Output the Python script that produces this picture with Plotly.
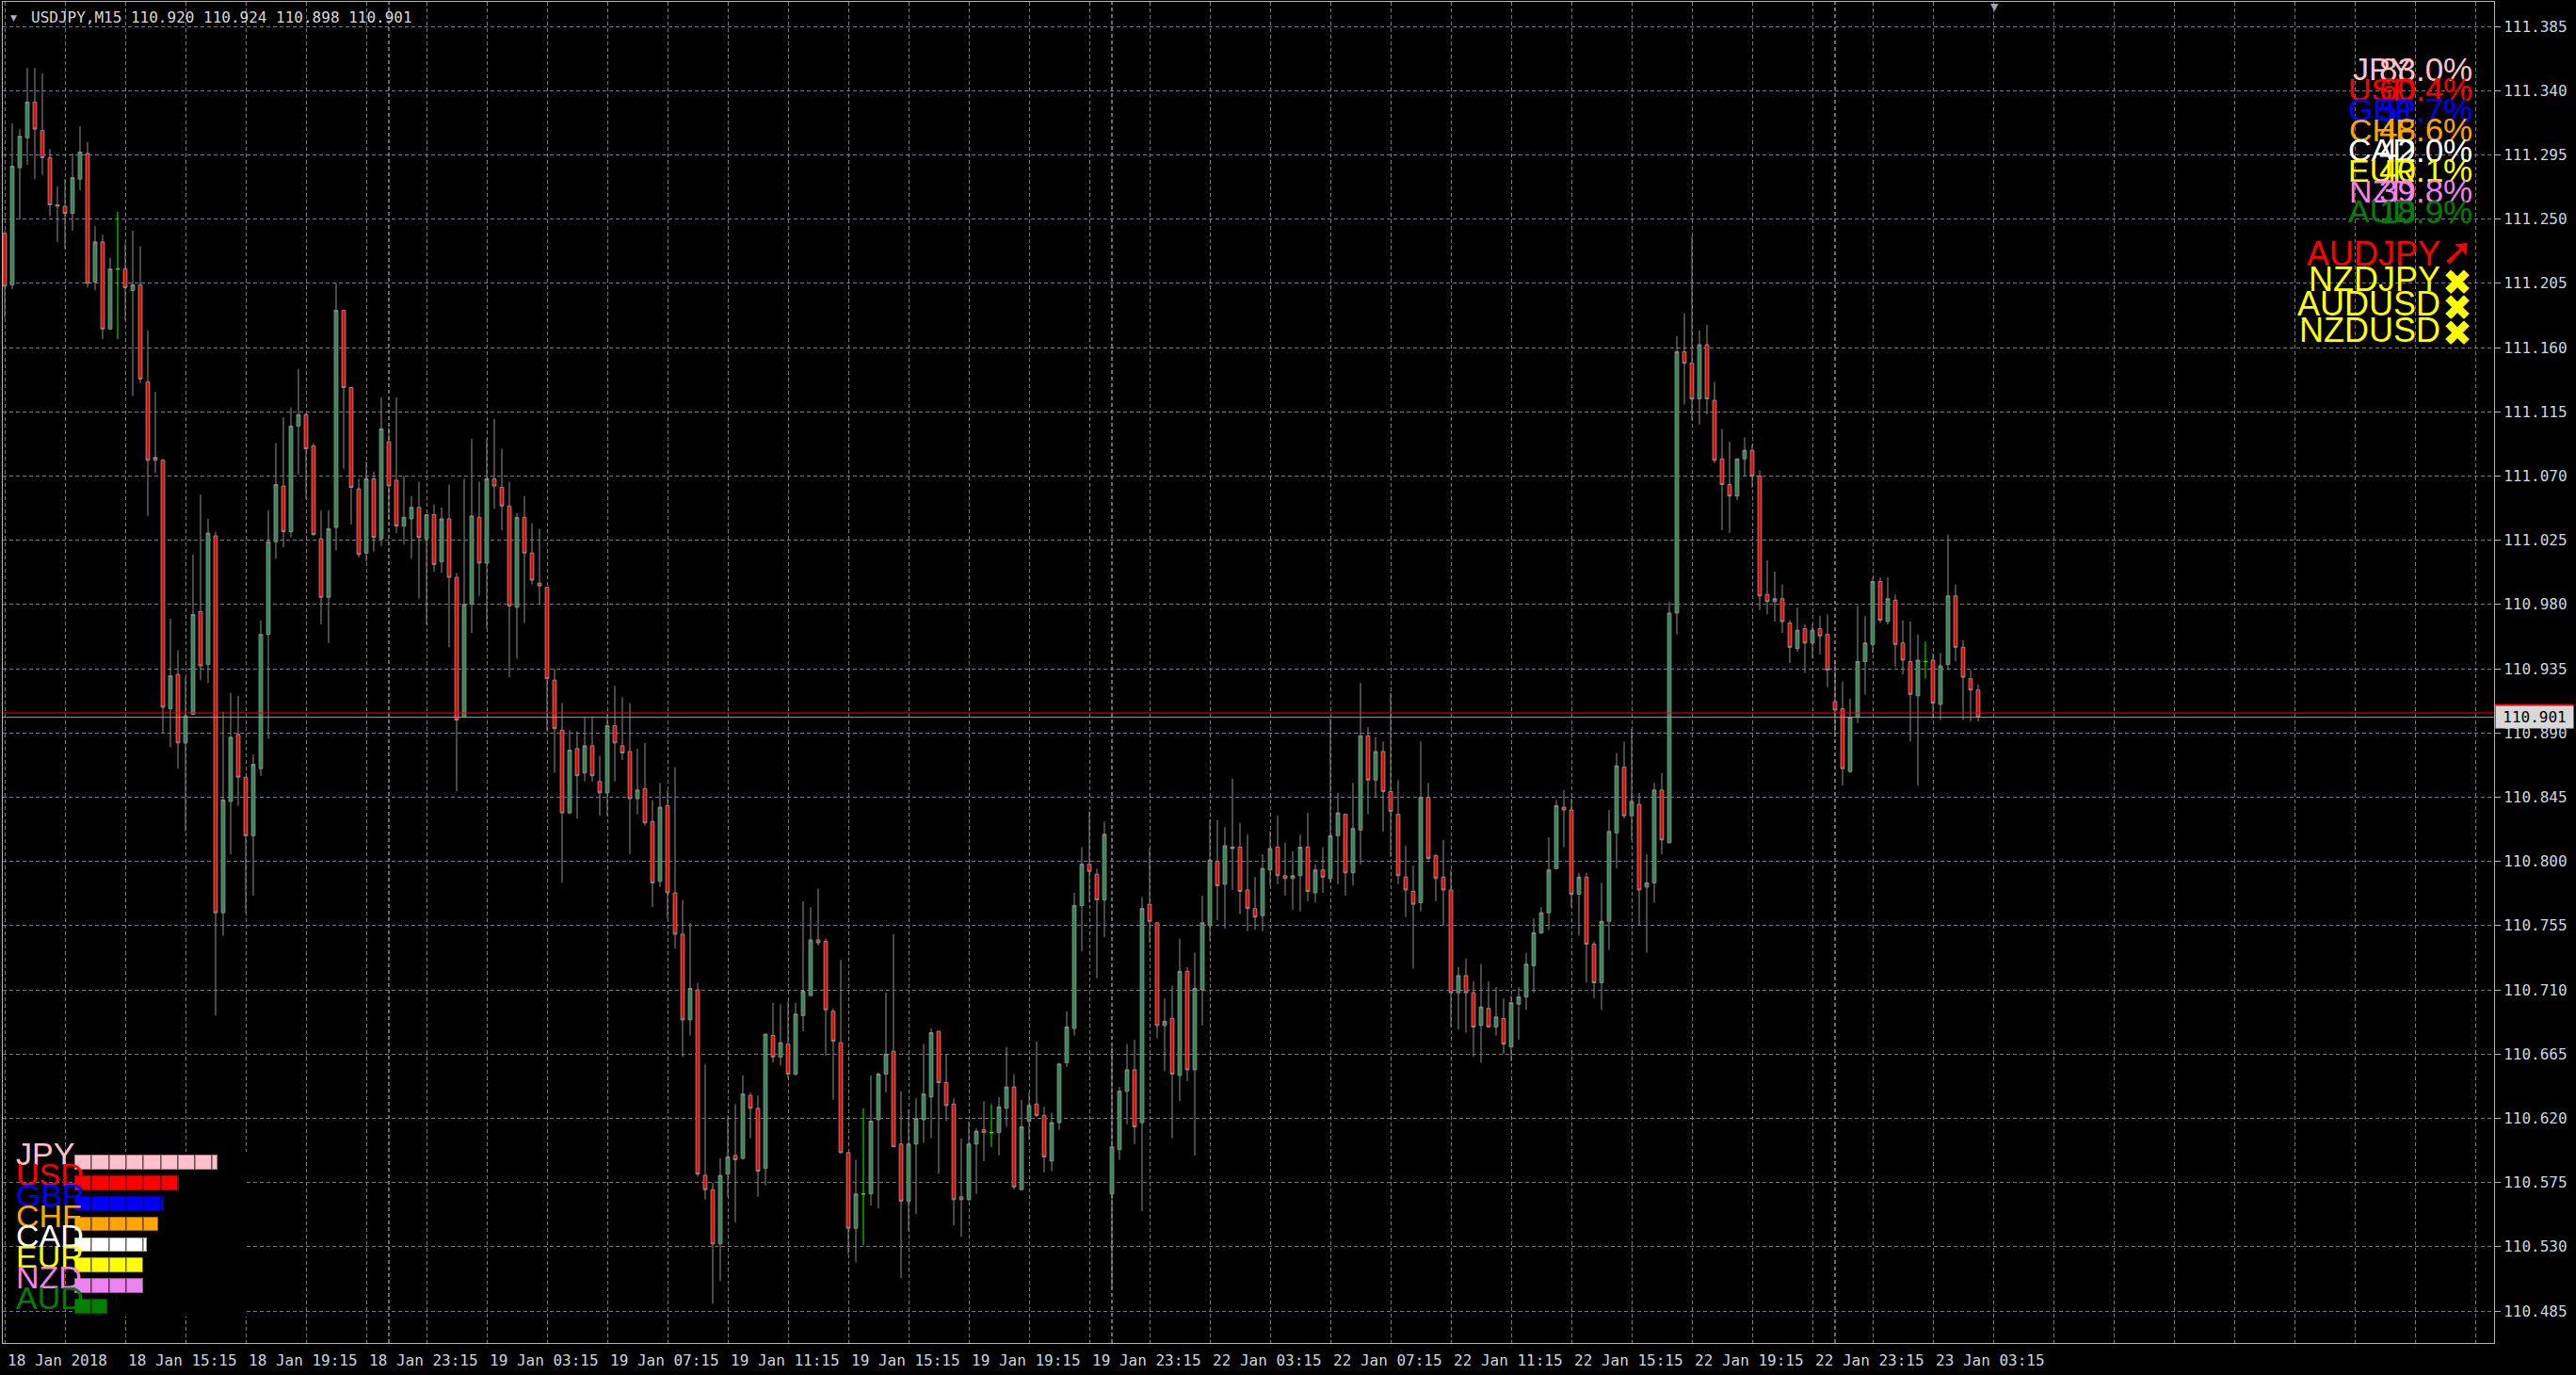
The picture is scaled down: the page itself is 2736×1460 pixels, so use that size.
import plotly.graph_objects as go
import pandas as pd

symbol = "USDJPY,M15"

opens = [111.240, 111.204, 111.286, 111.307, 111.332, 111.312, 111.293, 111.259, 111.259, 111.254,
         111.278, 111.296, 111.206, 111.234, 111.173, 111.215, 111.215, 111.200, 111.204, 111.136,
         111.081, 111.081, 110.907, 110.931, 110.883, 110.903, 110.975, 110.938, 111.028, 110.764,
         110.842, 110.889, 110.859, 110.818, 110.865, 110.959, 111.024, 111.063, 111.031, 111.105,
         111.113, 111.091, 111.026, 110.985, 111.034, 111.186, 111.132, 111.061, 111.016, 111.068,
         111.026, 111.094, 111.067, 111.035, 111.040, 111.048, 111.026, 111.043, 111.010, 111.040,
         110.999, 110.901, 110.980, 111.041, 111.009, 111.068, 111.062, 111.049, 110.978, 111.041,
         111.016, 110.995, 110.992, 110.927, 110.892, 110.834, 110.879, 110.862, 110.881, 110.856,
         110.848, 110.895, 110.881, 110.877, 110.844, 110.851, 110.828, 110.786, 110.839, 110.778,
         110.749, 110.689, 110.710, 110.580, 110.570, 110.532, 110.581, 110.594, 110.592, 110.636,
         110.627, 110.585, 110.678, 110.663, 110.672, 110.651, 110.692, 110.706, 110.745, 110.744,
         110.695, 110.673, 110.596, 110.543, 110.567, 110.567, 110.619, 110.651, 110.667, 110.602,
         110.562, 110.602, 110.619, 110.635, 110.681, 110.645, 110.630, 110.565, 110.563, 110.602,
         110.612, 110.610, 110.610, 110.627, 110.642, 110.570, 110.618, 110.630, 110.622, 110.590,
         110.617, 110.659, 110.683, 110.769, 110.798, 110.791, 110.773, 110.567, 110.598, 110.639,
         110.654, 110.617, 110.770, 110.757, 110.685, 110.690, 110.650, 110.723, 110.654, 110.710,
         110.755, 110.800, 110.784, 110.810, 110.810, 110.780, 110.767, 110.762, 110.794, 110.810,
         110.790, 110.788, 110.790, 110.810, 110.778, 110.794, 110.788, 110.818, 110.833, 110.792,
         110.822, 110.888, 110.857, 110.877, 110.849, 110.833, 110.789, 110.779, 110.771, 110.845,
         110.804, 110.789, 110.780, 110.708, 110.720, 110.708, 110.685, 110.697, 110.684, 110.690,
         110.670, 110.700, 110.705, 110.727, 110.750, 110.764, 110.795, 110.838, 110.836, 110.777,
         110.789, 110.742, 110.715, 110.758, 110.820, 110.866, 110.832, 110.840, 110.782, 110.785,
         110.850, 110.813, 110.974, 111.157, 111.149, 111.124, 111.162, 111.123, 111.082, 111.064,
         111.056, 111.082, 111.088, 111.070, 110.987, 110.982, 110.984, 110.967, 110.949, 110.963,
         110.953, 110.963, 110.959, 110.912, 110.907, 110.863, 110.901, 110.940, 110.952, 110.996,
         110.968, 110.983, 110.953, 110.940, 110.916, 110.940, 110.941, 110.910, 110.938, 110.986,
         110.950, 110.928, 110.920]

highs = [111.242, 111.317, 111.313, 111.356, 111.356, 111.352, 111.299, 111.273, 111.278, 111.296,
         111.315, 111.304, 111.245, 111.239, 111.223, 111.255, 111.233, 111.242, 111.231, 111.172,
         111.129, 111.082, 110.970, 110.948, 110.929, 111.015, 111.057, 111.040, 111.031, 110.905,
         110.918, 110.916, 110.859, 110.875, 110.969, 111.046, 111.093, 111.111, 111.118, 111.145,
         111.114, 111.093, 111.046, 111.046, 111.205, 111.186, 111.132, 111.068, 111.080, 111.073,
         111.125, 111.104, 111.125, 111.070, 111.056, 111.066, 111.043, 111.050, 111.048, 111.064,
         111.002, 111.068, 111.096, 111.066, 111.096, 111.110, 111.089, 111.066, 111.044, 111.056,
         111.037, 111.033, 110.992, 110.935, 110.911, 110.892, 110.891, 110.901, 110.901, 110.874,
         110.903, 110.923, 110.915, 110.911, 110.879, 110.883, 110.843, 110.855, 110.850, 110.866,
         110.773, 110.757, 110.715, 110.658, 110.575, 110.592, 110.622, 110.630, 110.650, 110.638,
         110.636, 110.679, 110.701, 110.700, 110.702, 110.701, 110.772, 110.768, 110.781, 110.746,
         110.697, 110.731, 110.596, 110.591, 110.627, 110.650, 110.652, 110.708, 110.749, 110.639,
         110.626, 110.634, 110.672, 110.683, 110.681, 110.665, 110.634, 110.606, 110.618, 110.613,
         110.632, 110.630, 110.635, 110.670, 110.651, 110.633, 110.638, 110.674, 110.628, 110.624,
         110.659, 110.695, 110.778, 110.810, 110.835, 110.795, 110.828, 110.670, 110.642, 110.672,
         110.675, 110.775, 110.809, 110.757, 110.704, 110.713, 110.746, 110.726, 110.736, 110.776,
         110.829, 110.829, 110.824, 110.858, 110.827, 110.819, 110.789, 110.805, 110.821, 110.832,
         110.813, 110.807, 110.819, 110.834, 110.798, 110.810, 110.900, 110.848, 110.833, 110.855,
         110.925, 110.894, 110.887, 110.884, 110.918, 110.857, 110.811, 110.797, 110.884, 110.855,
         110.805, 110.815, 110.794, 110.726, 110.732, 110.716, 110.728, 110.716, 110.712, 110.704,
         110.706, 110.712, 110.736, 110.760, 110.768, 110.817, 110.843, 110.850, 110.844, 110.792,
         110.792, 110.744, 110.785, 110.836, 110.876, 110.884, 110.893, 110.848, 110.805, 110.855,
         110.862, 110.982, 111.168, 111.184, 111.238, 111.172, 111.176, 111.136, 111.103, 111.094,
         111.082, 111.097, 111.092, 111.074, 111.011, 111.003, 110.994, 110.969, 110.978, 110.966,
         110.966, 110.972, 110.973, 110.941, 110.926, 110.914, 110.979, 110.972, 110.999, 110.999,
         110.999, 110.987, 110.969, 110.968, 110.959, 110.954, 110.946, 110.946, 111.029, 110.994,
         110.955, 110.934, 110.924]

lows = [111.181, 111.201, 111.250, 111.288, 111.278, 111.281, 111.252, 111.234, 111.229, 111.242,
        111.270, 111.202, 111.200, 111.166, 111.173, 111.166, 111.179, 111.126, 111.135, 111.042,
        111.072, 110.890, 110.880, 110.865, 110.821, 110.903, 110.927, 110.925, 110.692, 110.748,
        110.805, 110.839, 110.764, 110.776, 110.860, 110.886, 111.012, 111.020, 111.027, 111.071,
        111.054, 111.028, 110.966, 110.953, 111.018, 111.075, 111.036, 111.013, 111.010, 111.017,
        111.021, 111.039, 111.030, 111.022, 111.012, 110.984, 110.966, 111.003, 111.002, 110.950,
        110.849, 110.901, 110.960, 110.986, 110.963, 111.047, 111.032, 110.929, 110.942, 110.967,
        110.994, 110.980, 110.891, 110.862, 110.785, 110.833, 110.830, 110.856, 110.856, 110.832,
        110.832, 110.856, 110.871, 110.805, 110.833, 110.825, 110.768, 110.782, 110.760, 110.739,
        110.663, 110.678, 110.579, 110.563, 110.490, 110.506, 110.565, 110.547, 110.591, 110.606,
        110.565, 110.573, 110.659, 110.657, 110.648, 110.650, 110.681, 110.706, 110.741, 110.664,
        110.633, 110.595, 110.525, 110.519, 110.531, 110.559, 110.557, 110.638, 110.600, 110.508,
        110.541, 110.553, 110.603, 110.606, 110.581, 110.618, 110.545, 110.537, 110.562, 110.567,
        110.590, 110.600, 110.594, 110.614, 110.570, 110.570, 110.605, 110.621, 110.582, 110.583,
        110.612, 110.656, 110.678, 110.737, 110.771, 110.718, 110.747, 110.501, 110.591, 110.616,
        110.602, 110.555, 110.743, 110.676, 110.653, 110.606, 110.632, 110.646, 110.594, 110.685,
        110.744, 110.759, 110.753, 110.780, 110.763, 110.751, 110.752, 110.751, 110.783, 110.784,
        110.776, 110.766, 110.765, 110.772, 110.771, 110.778, 110.785, 110.784, 110.776, 110.783,
        110.798, 110.833, 110.845, 110.821, 110.803, 110.784, 110.761, 110.725, 110.765, 110.801,
        110.772, 110.755, 110.684, 110.682, 110.680, 110.663, 110.659, 110.684, 110.678, 110.665,
        110.660, 110.675, 110.696, 110.708, 110.749, 110.752, 110.795, 110.810, 110.768, 110.748,
        110.715, 110.704, 110.696, 110.738, 110.795, 110.830, 110.815, 110.755, 110.736, 110.771,
        110.805, 110.813, 110.959, 111.120, 111.109, 111.106, 111.113, 111.079, 111.032, 111.030,
        111.053, 111.070, 111.062, 110.976, 110.973, 110.968, 110.960, 110.939, 110.947, 110.932,
        110.942, 110.945, 110.922, 110.887, 110.853, 110.862, 110.897, 110.917, 110.946, 110.967,
        110.966, 110.936, 110.931, 110.884, 110.853, 110.928, 110.900, 110.899, 110.934, 110.940,
        110.899, 110.898, 110.898]

closes = [111.203, 111.287, 111.308, 111.332, 111.313, 111.293, 111.260, 111.260, 111.254, 111.279,
          111.297, 111.205, 111.234, 111.173, 111.215, 111.215, 111.202, 111.204, 111.138, 111.081,
          111.083, 110.908, 110.930, 110.883, 110.902, 110.973, 110.937, 111.030, 110.764, 110.843,
          110.887, 110.859, 110.818, 110.868, 110.959, 111.024, 111.064, 111.031, 111.105, 111.113,
          111.089, 111.029, 110.985, 111.033, 111.186, 111.132, 111.062, 111.015, 111.068, 111.027,
          111.103, 111.063, 111.035, 111.041, 111.048, 111.027, 111.043, 111.008, 111.040, 110.999,
          110.899, 110.980, 111.042, 111.009, 111.068, 111.063, 111.049, 110.979, 111.041, 111.016,
          110.997, 110.993, 110.928, 110.893, 110.834, 110.878, 110.860, 110.881, 110.860, 110.848,
          110.895, 110.883, 110.876, 110.844, 110.850, 110.827, 110.785, 110.838, 110.778, 110.749,
          110.689, 110.711, 110.581, 110.570, 110.532, 110.580, 110.593, 110.591, 110.637, 110.627,
          110.583, 110.679, 110.663, 110.673, 110.651, 110.693, 110.709, 110.745, 110.743, 110.696,
          110.674, 110.596, 110.543, 110.567, 110.567, 110.618, 110.651, 110.665, 110.600, 110.562,
          110.602, 110.620, 110.637, 110.680, 110.645, 110.629, 110.563, 110.563, 110.602, 110.611,
          110.610, 110.610, 110.628, 110.642, 110.572, 110.614, 110.629, 110.622, 110.593, 110.617,
          110.658, 110.684, 110.769, 110.798, 110.793, 110.773, 110.819, 110.600, 110.639, 110.654,
          110.614, 110.767, 110.758, 110.685, 110.688, 110.651, 110.723, 110.654, 110.711, 110.757,
          110.801, 110.783, 110.811, 110.809, 110.779, 110.767, 110.761, 110.795, 110.809, 110.790,
          110.788, 110.790, 110.810, 110.779, 110.794, 110.789, 110.818, 110.834, 110.792, 110.823,
          110.888, 110.857, 110.877, 110.849, 110.835, 110.790, 110.780, 110.770, 110.845, 110.802,
          110.788, 110.780, 110.708, 110.720, 110.708, 110.684, 110.698, 110.684, 110.691, 110.672,
          110.701, 110.705, 110.728, 110.750, 110.764, 110.794, 110.839, 110.836, 110.777, 110.789,
          110.742, 110.715, 110.758, 110.821, 110.867, 110.832, 110.842, 110.780, 110.785, 110.850,
          110.815, 110.974, 111.157, 111.149, 111.124, 111.162, 111.124, 111.081, 111.064, 111.056,
          111.082, 111.088, 111.070, 110.986, 110.982, 110.984, 110.968, 110.950, 110.962, 110.953,
          110.962, 110.958, 110.934, 110.906, 110.865, 110.901, 110.940, 110.953, 110.996, 110.969,
          110.984, 110.952, 110.941, 110.917, 110.941, 110.940, 110.911, 110.937, 110.986, 110.950,
          110.929, 110.920, 110.901]

ask_price = 110.904

price_ticks = [110.485, 110.530, 110.575, 110.620, 110.665, 110.710, 110.755, 110.800, 110.845,
               110.890, 110.935, 110.980, 111.025, 111.070, 111.115, 111.160, 111.205, 111.250,
               111.295, 111.340, 111.385]

currencies = ["JPY", "USD", "GBP", "CHF", "CAD", "EUR", "NZD", "AUD"]
strength = [83.0, 60.4, 51.7, 48.6, 42.0, 40.1, 39.8, 18.9]
cur_colors = ["#FFC0CB", "#FF0000", "#0000FF", "#FFA500", "#FFFFFF", "#FFFF00", "#EE82EE", "#008000"]

pairs = ["AUDJPY", "NZDJPY", "AUDUSD", "NZDUSD"]
pair_colors = ["#FF0000", "#FFFF00", "#FFFF00", "#FFFF00"]
pair_marks = ["➚", "✖", "✖", "✖"]

# ---------------- time axis ----------------
n = len(opens)
session1 = pd.date_range("2018-01-18 11:15", "2018-01-19 23:45", freq="15min")
session2 = pd.date_range("2018-01-22 00:00", periods=n - len(session1), freq="15min")
bar_times = session1.append(session2)
idx = list(range(n))
day_starts = [i for i in range(1, n) if bar_times[i].date() != bar_times[i - 1].date()]
label_idx = list(range(0, n, 16))
time_labels = [bar_times[i].strftime("%d %b %Y") if i == 0 else bar_times[i].strftime("%d %b %H:%M")
               for i in label_idx]

# ---------------- geometry helpers ----------------
W, H = 2736, 1460
ML, MR, MT, MB = 3, 87, 2, 34
PW, PH = W - ML - MR, H - MT - MB


def px(x):
    return (x - ML) / PW


def py(y):
    return (H - MB - y) / PH


GRID = "#6f7b8c"
AXTXT = "#cfd5de"
MONO = "DejaVu Sans Mono"
SANS = "Liberation Sans"

fig = go.Figure()

reg = [i for i in idx if opens[i] != closes[i]]
doj = [i for i in idx if opens[i] == closes[i]]

fig.add_trace(go.Candlestick(
    x=reg, open=[opens[i] for i in reg], high=[highs[i] for i in reg],
    low=[lows[i] for i in reg], close=[closes[i] for i in reg],
    increasing=dict(fillcolor="#2E8B57", line=dict(color="#8C8C8C", width=1)),
    decreasing=dict(fillcolor="#FF0000", line=dict(color="#8C8C8C", width=1)),
    whiskerwidth=0, hoverinfo="skip", showlegend=False))

fig.add_trace(go.Candlestick(
    x=doj, open=[opens[i] for i in doj], high=[highs[i] for i in doj],
    low=[lows[i] for i in doj], close=[closes[i] for i in doj],
    increasing=dict(fillcolor="#00FF00", line=dict(color="#00FF00", width=1)),
    decreasing=dict(fillcolor="#00FF00", line=dict(color="#00FF00", width=1)),
    whiskerwidth=0, hoverinfo="skip", showlegend=False))

# ---------------- strength meter (bottom-left) ----------------
for k in range(10):
    vals = []
    for s in strength:
        v = min(10.0, s - 10 * k)
        vals.append(v if v > 0 else None)
    if all(v is None for v in vals):
        continue
    fig.add_trace(go.Bar(
        x=vals, y=currencies, orientation="h", xaxis="x2", yaxis="y2",
        marker=dict(color=cur_colors, line=dict(color="rgba(0,0,0,0.35)", width=2)),
        width=0.72, hoverinfo="skip", showlegend=False))

annotations = []
for c, col in zip(currencies, cur_colors):
    annotations.append(dict(x=px(15), xref="paper", xanchor="left", y=c, yref="y2", yanchor="middle",
                            yshift=9, text=c, showarrow=False,
                            font=dict(family=SANS, size=34, color=col)))

# ---------------- top-right strength list ----------------
for k, (c, s, col) in enumerate(zip(currencies, strength, cur_colors)):
    yc = 73 + k * 21.6
    annotations.append(dict(x=px(2530), xref="paper", xanchor="center", y=py(yc), yref="paper",
                            yanchor="middle", text=c, showarrow=False,
                            font=dict(family=SANS, size=34, color=col)))
    annotations.append(dict(x=px(2628), xref="paper", xanchor="right", y=py(yc), yref="paper",
                            yanchor="middle", text=f"{s:.1f}%", showarrow=False,
                            font=dict(family=SANS, size=35, color=col)))

for k, (p, col, m) in enumerate(zip(pairs, pair_colors, pair_marks)):
    yc = 269 + k * 27
    annotations.append(dict(x=px(2594), xref="paper", xanchor="right", y=py(yc), yref="paper",
                            yanchor="middle", text=p, showarrow=False,
                            font=dict(family=SANS, size=36, color=col)))
    annotations.append(dict(x=px(2610), xref="paper", xanchor="center", y=py(yc + (-2 if k == 0 else 4)),
                            yref="paper", yanchor="middle", text=m, showarrow=False,
                            font=dict(family="DejaVu Sans", size=(40 if k == 0 else 38), color=col)))

# ---------------- header and markers ----------------
annotations.append(dict(x=px(31), xref="paper", xanchor="left", y=py(19), yref="paper", yanchor="middle",
                        text=f"{symbol} {opens[-1]:.3f} {highs[-1]:.3f} {lows[-1]:.3f} {closes[-1]:.3f}",
                        showarrow=False, font=dict(family=MONO, size=16, color="#d8d8d8")))
annotations.append(dict(x=px(14), xref="paper", xanchor="center", y=py(19), yref="paper", yanchor="middle",
                        text="▼", showarrow=False, font=dict(family="DejaVu Sans", size=9, color="#b0b0b0")))
annotations.append(dict(x=px(2118), xref="paper", xanchor="center", y=py(8), yref="paper", yanchor="middle",
                        text="▼", showarrow=False, font=dict(family="DejaVu Sans", size=11, color="#9aa4b0")))

# time labels
for i, t in zip(label_idx, time_labels):
    annotations.append(dict(x=i, xref="x", xanchor="left", xshift=1, y=0, yref="paper", yanchor="middle",
                            yshift=-18, text=t, showarrow=False,
                            font=dict(family=MONO, size=16, color=AXTXT)))

# current price box
bid = closes[-1]
annotations.append(dict(x=1, xref="paper", xanchor="left", xshift=1, y=bid, yref="y", yanchor="middle",
                        text=f"{bid:.3f}", showarrow=False, bgcolor="#D8D8D8", borderpad=2, width=78,
                        font=dict(family=MONO, size=16, color="#000000")))

shapes = []
for d in day_starts:
    shapes.append(dict(type="line", xref="x", yref="paper", x0=d, x1=d, y0=0, y1=1, layer="below",
                       line=dict(color="#d4d4d4", width=1, dash="4px,3px")))
shapes.append(dict(type="line", xref="paper", x0=0, x1=1, yref="y", y0=bid, y1=bid,
                   line=dict(color="#9a9a9a", width=1)))
shapes.append(dict(type="line", xref="paper", x0=0, x1=1, yref="y", y0=ask_price, y1=ask_price,
                   line=dict(color="#FF0000", width=1)))
shapes.append(dict(type="rect", xref="paper", x0=1.0004, x1=px(2733), yref="y", ysizemode="pixel",
                   yanchor=bid, y0=11, y1=14, fillcolor="#FF0000", line=dict(width=0)))

fig.update_layout(
    width=W, height=H, autosize=False,
    margin=dict(l=ML, r=MR, t=MT, b=MB, pad=0),
    paper_bgcolor="#000000", plot_bgcolor="#000000",
    boxgap=0.33, barmode="stack", showlegend=False,
    xaxis=dict(range=[-0.25, 330.5], tickmode="linear", tick0=0, dtick=8, showgrid=True,
               gridcolor=GRID, griddash="4px,3px", gridwidth=1, showticklabels=False, ticks="",
               zeroline=False, showline=True, linecolor="#b4b4b4", linewidth=1, mirror=True,
               rangeslider=dict(visible=False), fixedrange=True),
    yaxis=dict(range=[110.46261, 111.40216], side="right", tickmode="array", tickvals=price_ticks,
               ticktext=[f"{v:.3f}" for v in price_ticks], showgrid=True, gridcolor=GRID,
               griddash="4px,3px", gridwidth=1, ticks="outside", ticklen=6, tickcolor="#b4b4b4",
               tickfont=dict(family=MONO, size=16, color=AXTXT), zeroline=False, showline=True,
               linecolor="#b4b4b4", linewidth=1, mirror=True, fixedrange=True),
    xaxis2=dict(domain=[px(79), px(262)], range=[0, 100], anchor="y2", visible=False, fixedrange=True),
    yaxis2=dict(domain=[py(1398), py(1223)], anchor="x2", type="category", categoryorder="array",
                categoryarray=currencies[::-1], range=[-0.5, 7.5], visible=False, fixedrange=True),
    annotations=annotations, shapes=shapes,
)

fig.write_html("out.html", include_plotlyjs=True, full_html=True,
               config={"displayModeBar": False},
               post_script="document.body.style.margin='0';document.body.style.overflow='hidden';")
